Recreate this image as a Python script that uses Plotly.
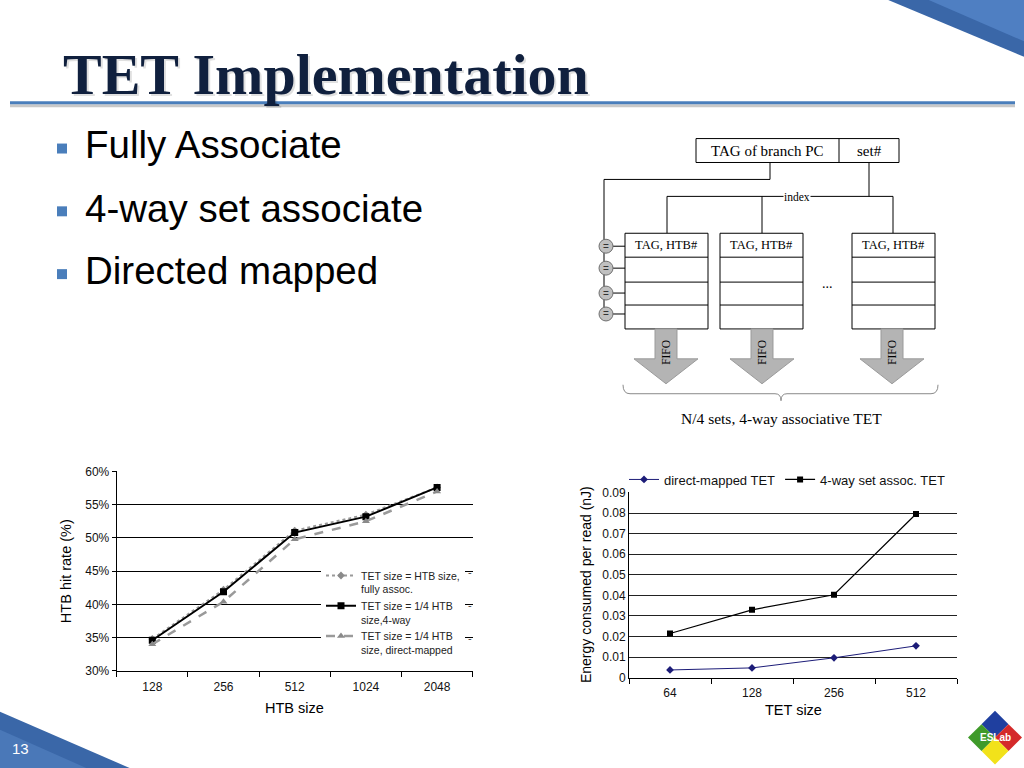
import plotly.graph_objects as go

W, H = 1024, 768
# the photographed page shows a slight vertical squeeze; compensate so marks land where intended
SQUEEZE, OFFSET = 0.985, 5.0


def X(px):
    return px / W


def Y(py):
    return 1 - ((py - OFFSET) / SQUEEZE) / H


# ---------------- data ----------------
htb_sizes = ["128", "256", "512", "1024", "2048"]
hit_fully = [34.8, 42.2, 51.1, 53.5, 57.6]
hit_4way = [34.6, 41.9, 50.8, 53.2, 57.6]
hit_direct = [34.0, 40.4, 49.8, 52.5, 57.0]
hit_ticks = [30, 35, 40, 45, 50, 55, 60]
hit_tick_labels = ["30%", "35%", "40%", "45%", "50%", "55%", "60%"]

tet_sizes = ["64", "128", "256", "512"]
energy_direct = [0.0038, 0.0048, 0.0097, 0.0155]
energy_4way = [0.0215, 0.0330, 0.0403, 0.0795]
energy_ticks = [0, 0.01, 0.02, 0.03, 0.04, 0.05, 0.06, 0.07, 0.08, 0.09]
energy_tick_labels = ["0", "0.01", "0.02", "0.03", "0.04", "0.05", "0.06", "0.07", "0.08", "0.09"]

legend_left = ["TET size = HTB size,<br>fully assoc.",
               "TET size = 1/4 HTB<br>size,4-way",
               "TET size = 1/4 HTB<br>size, direct-mapped"]
legend_right = ["direct-mapped TET", "4-way set assoc. TET"]

bullets = ["Fully Associate", "4-way set associate", "Directed mapped"]
slide_title = "TET Implementation"
slide_number = "13"

SANS = "Liberation Sans, Arial, sans-serif"
SERIF = "Liberation Serif, Times New Roman, serif"

fig = go.Figure()

# ---------------- left chart ----------------
fig.add_trace(go.Scatter(
    x=htb_sizes, y=hit_fully, name=legend_left[0], mode="lines+markers",
    line=dict(color="#9a9a9a", width=2, dash="dot"),
    marker=dict(symbol="diamond", size=6, color="#8a8a8a"),
    xaxis="x", yaxis="y", legend="legend", legendgroup="a"))
fig.add_trace(go.Scatter(
    x=htb_sizes, y=hit_4way, name=legend_left[1], mode="lines+markers",
    line=dict(color="#000000", width=2),
    marker=dict(symbol="square", size=7, color="#000000"),
    xaxis="x", yaxis="y", legend="legend", legendgroup="b"))
fig.add_trace(go.Scatter(
    x=htb_sizes, y=hit_direct, name=legend_left[2], mode="lines+markers",
    line=dict(color="#9a9a9a", width=2.5, dash="dash"),
    marker=dict(symbol="triangle-up", size=7, color="#8a8a8a"),
    xaxis="x", yaxis="y", legend="legend", legendgroup="c"))

# ---------------- right chart ----------------
fig.add_trace(go.Scatter(
    x=tet_sizes, y=energy_direct, name=legend_right[0], mode="lines+markers",
    line=dict(color="#1c1c78", width=1),
    marker=dict(symbol="diamond", size=6, color="#1c1c78"),
    xaxis="x2", yaxis="y2", legend="legend2"))
fig.add_trace(go.Scatter(
    x=tet_sizes, y=energy_4way, name=legend_right[1], mode="lines+markers",
    line=dict(color="#000000", width=1.2),
    marker=dict(symbol="square", size=6, color="#000000"),
    xaxis="x2", yaxis="y2", legend="legend2"))

# ---------------- shapes ----------------
shapes = []


def rect(x0, y0, x1, y1, line="#000", fill=None, width=1):
    shapes.append(dict(type="rect", xref="paper", yref="paper",
                       x0=X(x0), x1=X(x1), y0=Y(y0), y1=Y(y1),
                       line=dict(color=line, width=width),
                       fillcolor=fill, layer="above"))


def line(x0, y0, x1, y1, color="#000", width=1):
    shapes.append(dict(type="line", xref="paper", yref="paper",
                       x0=X(x0), x1=X(x1), y0=Y(y0), y1=Y(y1),
                       line=dict(color=color, width=width), layer="above"))


def poly(pts, fill, color=None, width=0, closed=True):
    d = "M " + " L ".join(f"{X(a):.5f},{Y(b):.5f}" for a, b in pts)
    if closed:
        d += " Z"
    shapes.append(dict(type="path", xref="paper", yref="paper", path=d,
                       fillcolor=fill, line=dict(color=color or fill, width=width),
                       layer="above"))


# corner decorations
poly([(874, -8), (1030, -8), (1030, 57.5)], "#3a67a8")
poly([(915, -8), (1030, -8), (1030, 42)], "#4f7fc2")
poly([(0, 712), (0, 780), (156, 780)], "#3a67a8")
poly([(0, 730), (0, 780), (112, 780)], "#4a78b8")

# title underline
line(10, 104, 1015, 104, "#c8c8c8", 3)
line(10, 101, 1015, 101, "#4a7ebb", 3)

# bullets
for cy in (147, 210, 273):
    rect(57, cy - 5, 67, cy + 5, line="#4a7ebb", fill="#4a7ebb", width=0)

# ---- diagram ----
rect(696, 137, 899, 161)
line(839, 137, 839, 161)
line(770, 161, 770, 178)
line(770, 178, 604, 178)
line(604, 178, 604, 313)
line(869, 161, 869, 195)
line(667, 195, 893, 195)
for xc in (667, 762, 893):
    line(xc, 195, xc, 232)
boxes = [(625, 708), (720, 803), (852, 935)]
for bx0, bx1 in boxes:
    rect(bx0, 232, bx1, 328, fill="white")
    for yy in (256, 281, 304):
        line(bx0, yy, bx1, yy)
comparator_y = (245, 267, 292, 313)
for cy in comparator_y:
    line(606, cy, 625, cy)
for cy in comparator_y:
    shapes.append(dict(type="circle", xref="paper", yref="paper",
                       x0=X(599), x1=X(613), y0=Y(cy - 7), y1=Y(cy + 7),
                       fillcolor="#c0c0c0", line=dict(color="#707070", width=1),
                       layer="above"))
for cx in (666, 762, 892):
    poly([(cx - 11, 328), (cx + 11, 328), (cx + 11, 358), (cx + 32, 358),
          (cx, 383), (cx - 32, 358), (cx - 11, 358)], "#b4b4b4", "#9a9a9a", 1)
shapes.append(dict(type="path", xref="paper", yref="paper",
                   path=(f"M {X(623)},{Y(384)} Q {X(623)},{Y(393)} {X(630)},{Y(393)} "
                         f"L {X(775)},{Y(393)} Q {X(781)},{Y(393)} {X(781)},{Y(400)} "
                         f"Q {X(781)},{Y(393)} {X(787)},{Y(393)} L {X(931)},{Y(393)} "
                         f"Q {X(938)},{Y(393)} {X(938)},{Y(384)}"),
                   line=dict(color="#8a8a8a", width=1), layer="above"))

# logo diamond
cx, cy, r = 995, 738, 27
h = r / 2
poly([(cx, cy - r), (cx + h, cy - h), (cx, cy), (cx - h, cy - h)], "#1f3f9f")
poly([(cx + h, cy - h), (cx + r, cy), (cx + h, cy + h), (cx, cy)], "#d42a2a")
poly([(cx, cy), (cx + h, cy + h), (cx, cy + r), (cx - h, cy + h)], "#f2e21a")
poly([(cx - h, cy - h), (cx, cy), (cx - h, cy + h), (cx - r, cy)], "#3f9a2a")

# ---------------- annotations ----------------
ann = []


def text(x, y, s, size, font=SANS, color="#000", xanchor="center", yanchor="middle",
         angle=0, bg=None, bold=False):
    d = dict(x=X(x), y=Y(y), xref="paper", yref="paper", text=f"<b>{s}</b>" if bold else s,
             showarrow=False, xanchor=xanchor, yanchor=yanchor, textangle=angle,
             font=dict(family=font, size=size, color=color))
    if bg:
        d["bgcolor"] = bg
        d["borderpad"] = 0
    ann.append(d)


text(63, 75, slide_title, 58, SERIF, "rgba(0,0,0,0.12)", "left", bold=True)
text(61, 73, slide_title, 58, SERIF, "#10203e", "left", bold=True)

for s, cyy in zip(bullets, (143, 207, 269)):
    text(83, cyy, s, 38.5, SANS, "#000", "left")

text(20, 749, slide_number, 15, SANS, "white")
text(995, 738, "ESLab", 10, SANS, "white", bold=True)

text(767, 149, "TAG of branch PC", 15, SERIF)
text(869, 149, "set#", 15, SERIF)
text(797, 196, "index", 11.5, SERIF, bg="white")
for (bx0, bx1) in boxes:
    text((bx0 + bx1) / 2, 244, "TAG, HTB#", 12.5, SERIF)
text(827, 282, "...", 14, SERIF)
for cxx in (666, 762, 892):
    text(cxx, 352, "FIFO", 11.5, SERIF, angle=-90)
for cyy in comparator_y:
    text(606, cyy, "=", 10, SANS, "#333")
text(781, 418, "N/4 sets, 4-way associative TET", 15.5, SERIF)

text(294, 708, "HTB size", 14.5)
text(66, 571, "HTB hit rate (%)", 14.5, angle=-90)
text(793, 710, "TET size", 14.5)
text(586, 585, "Energy consumed per read (nJ)", 14, angle=-90)

for yy in (572, 605, 638):
    text(470, yy, "-", 11, SANS, "#444")

axis_font = dict(family=SANS, size=12, color="#111")

fig.update_layout(
    width=W, height=H, margin=dict(l=0, r=0, t=0, b=0),
    paper_bgcolor="white", plot_bgcolor="white",
    shapes=shapes, annotations=ann,
    xaxis=dict(domain=[X(116.7), X(472.7)], anchor="y", type="category",
               range=[-0.5, len(htb_sizes) - 0.5],
               showgrid=False, showline=True, linecolor="#000", linewidth=1,
               ticks="outside", tickson="boundaries", ticklen=5, tickcolor="#000",
               ticklabelstandoff=5,
               tickfont=axis_font, fixedrange=True),
    yaxis=dict(domain=[Y(671), Y(471)], anchor="x", range=[30, 60],
               tickvals=hit_ticks, ticktext=hit_tick_labels,
               showgrid=True, gridcolor="#000", gridwidth=1,
               showline=True, linecolor="#000", linewidth=1,
               ticks="outside", ticklen=4, tickcolor="#000",
               tickfont=axis_font, zeroline=False, fixedrange=True),
    xaxis2=dict(domain=[X(629), X(957)], anchor="y2", type="category",
                range=[-0.5, len(tet_sizes) - 0.5],
                showgrid=False, showline=True, linecolor="#000", linewidth=1,
                ticks="outside", tickson="boundaries", ticklen=5, tickcolor="#000",
                ticklabelstandoff=4,
                tickfont=axis_font, fixedrange=True),
    yaxis2=dict(domain=[Y(678), Y(492)], anchor="x2", range=[0, 0.09],
                tickvals=energy_ticks, ticktext=energy_tick_labels,
                showgrid=True, gridcolor="#222", gridwidth=1,
                showline=True, linecolor="#000", linewidth=1,
                ticks="", tickfont=axis_font, zeroline=False, fixedrange=True),
    legend=dict(x=X(321), y=Y(562), xanchor="left", yanchor="top",
                bgcolor="white", borderwidth=0, valign="top",
                font=dict(family=SANS, size=10.5, color="#222"),
                tracegroupgap=4, itemwidth=30, traceorder="normal"),
    legend2=dict(x=X(624), y=Y(464), xanchor="left", yanchor="top",
                 orientation="h", bgcolor="rgba(0,0,0,0)", itemwidth=30,
                 font=dict(family=SANS, size=13, color="#111")),
    showlegend=True,
)

fig.write_html("out.html", config={"displayModeBar": False},
               post_script="document.body.style.margin='0';document.body.style.overflow='hidden';")
